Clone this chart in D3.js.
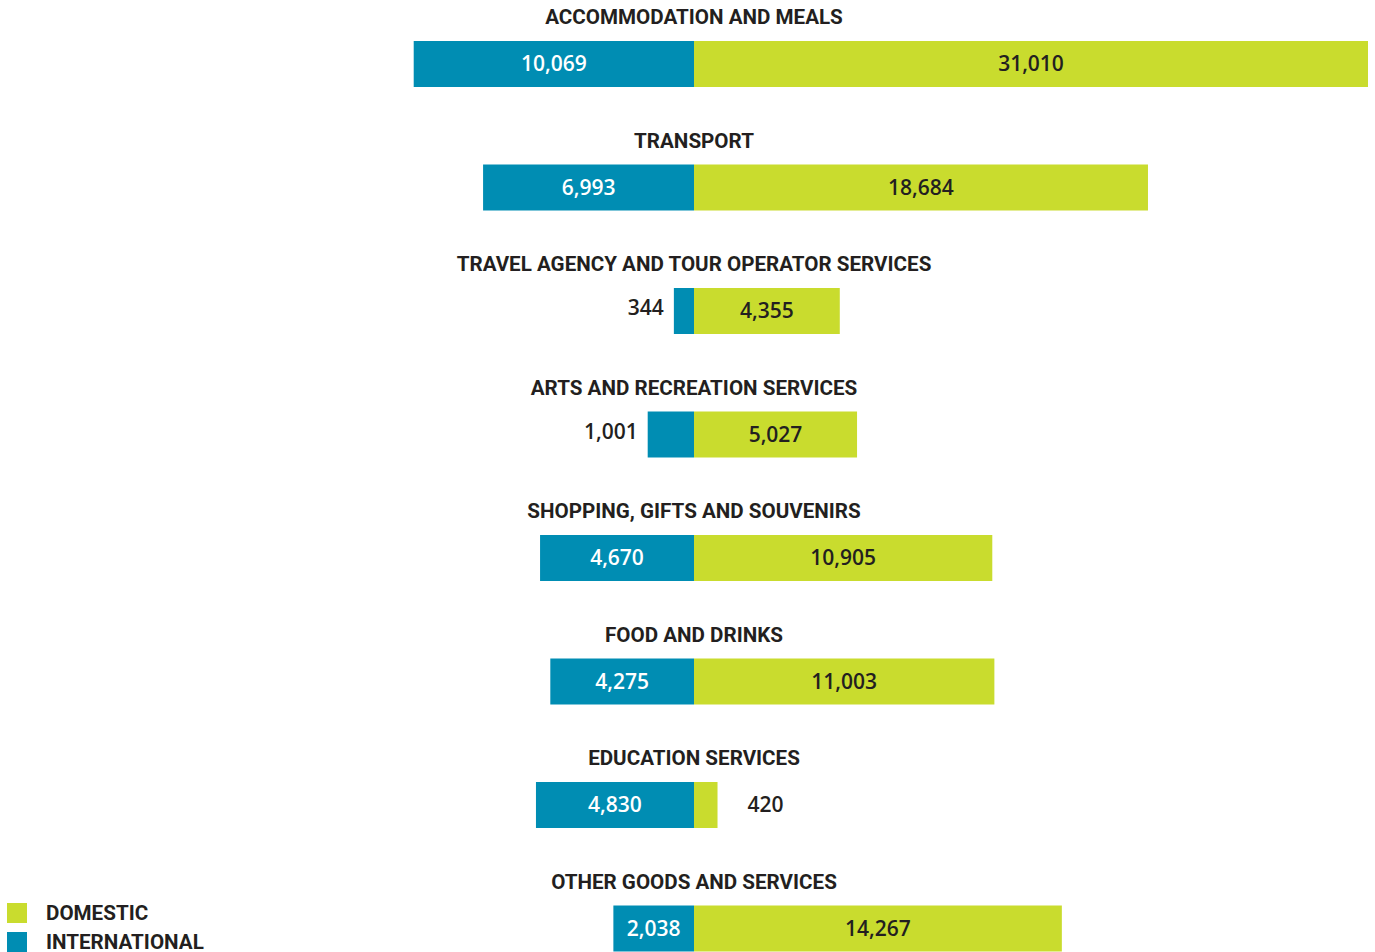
<!DOCTYPE html>
<html>
<head>
<meta charset="utf-8">
<script src="https://cdn.jsdelivr.net/npm/d3@7"></script>
<style>
  body { margin: 0; background: #fff; }
  .title { font-family: "Roboto", sans-serif; font-weight: bold; font-size: 20.6px; fill: #231f20; }
  .val { font-family: "Open Sans", "Lato", sans-serif; font-weight: 600; font-size: 21px; }
</style>
</head>
<body>
<div id="chart"></div>
<script>
const categories = [
    "ACCOMMODATION AND MEALS",
    "TRANSPORT",
    "TRAVEL AGENCY AND TOUR OPERATOR SERVICES",
    "ARTS AND RECREATION SERVICES",
    "SHOPPING, GIFTS AND SOUVENIRS",
    "FOOD AND DRINKS",
    "EDUCATION SERVICES",
    "OTHER GOODS AND SERVICES"
];
const international = [10069, 6993, 344, 1001, 4670, 4275, 4830, 2038];
const domestic = [31010, 18684, 4355, 5027, 10905, 11003, 420, 14267];
const legendLabels = ["DOMESTIC", "INTERNATIONAL"];

const width = 1375;
const height = 952;
const centerX = 694;
const blue = "#008db3";
const green = "#c9dc2e";
const dark = "#231f20";

const svg = d3.select("#chart").append("svg")
    .attr("width", width)
    .attr("height", height);

// bars in the original are not linear, a power scale follows them better
const w = d3.scalePow().exponent(0.78)
    .domain([0, d3.max(domestic)])
    .range([0, 674]);

const y = d3.scaleBand()
    .domain(categories)
    .range([17, 17 + 123.5 * categories.length])
    .paddingInner(0);

const fmt = d3.format(",");
const barH = 46;

const rows = svg.selectAll(".row")
    .data(categories)
    .enter().append("g")
    .attr("class", "row")
    .attr("transform", d => `translate(0,${y(d)})`);

rows.append("text")
    .attr("class", "title")
    .attr("x", centerX)
    .attr("y", 0)
    .attr("dy", "0.35em")
    .attr("text-anchor", "middle")
    .text(d => d);

// international to the left
rows.append("rect")
    .attr("x", (d, i) => centerX - w(international[i]))
    .attr("y", 24)
    .attr("width", (d, i) => w(international[i]))
    .attr("height", barH)
    .attr("fill", blue);

// domestic to the right
rows.append("rect")
    .attr("x", centerX)
    .attr("y", 24)
    .attr("width", (d, i) => w(domestic[i]))
    .attr("height", barH)
    .attr("fill", green);

rows.append("text")
    .attr("class", "val")
    .attr("y", 24 + barH / 2)
    .attr("dy", "0.35em")
    .each(function(d, i) {
        const bw = w(international[i]);
        const t = d3.select(this).text(fmt(international[i]));
        if (bw > 60) {
            t.attr("x", centerX - bw / 2).attr("text-anchor", "middle").attr("fill", "#fff");
        } else {
            t.attr("x", centerX - bw - 10).attr("y", 24 + barH / 2 - 3).attr("text-anchor", "end").attr("fill", dark);
        }
    });

rows.append("text")
    .attr("class", "val")
    .attr("y", 24 + barH / 2)
    .attr("dy", "0.35em")
    .each(function(d, i) {
        const bw = w(domestic[i]);
        const t = d3.select(this).text(fmt(domestic[i]));
        if (bw > 60) {
            t.attr("x", centerX + bw / 2).attr("text-anchor", "middle").attr("fill", dark);
        } else {
            t.attr("x", centerX + bw + 30).attr("text-anchor", "start").attr("fill", dark);
        }
    });

// legend
const legend = svg.selectAll(".legend")
    .data(legendLabels)
    .enter().append("g")
    .attr("class", "legend")
    .attr("transform", (d, i) => `translate(7,${903 + i * 29})`);

legend.append("rect")
    .attr("width", 20)
    .attr("height", 20)
    .attr("fill", (d, i) => i === 0 ? green : blue);

legend.append("text")
    .attr("class", "title")
    .attr("x", 39)
    .attr("y", 10)
    .attr("dy", "0.35em")
    .text(d => d);
</script>
</body>
</html>
